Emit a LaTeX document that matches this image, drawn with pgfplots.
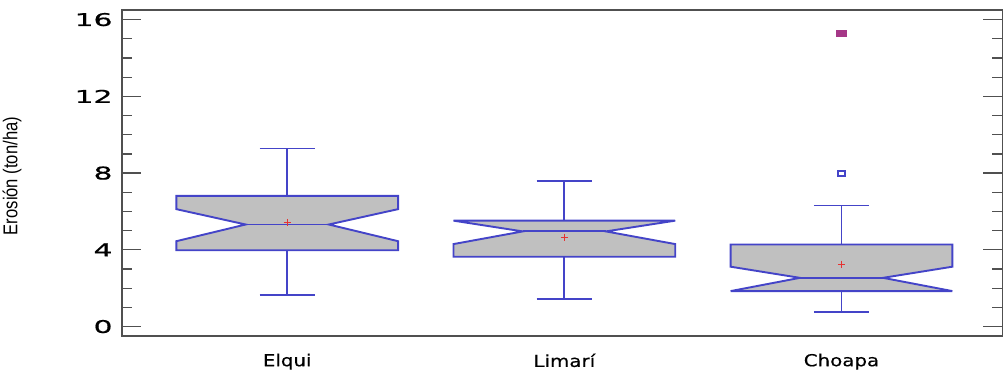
\documentclass[border=0pt]{standalone}
\usepackage{fontspec}
\setmainfont{DejaVu Sans}
\newfontfamily\tickfont{DejaVu Sans}[FakeStretch=1.7, FakeBold=0.8]
\newfontfamily\catfont{DejaVu Sans}[FakeStretch=1.2, FakeBold=0.4]
\newfontfamily\labfont{Liberation Sans}[FakeStretch=0.83]
\usepackage{pgfplots}
\pgfplotsset{compat=1.18}

\definecolor{boxblue}{RGB}{68,68,200}
\definecolor{boxgray}{RGB}{192,192,192}
\definecolor{framegray}{RGB}{80,80,80}
\definecolor{meanred}{RGB}{230,50,50}
\definecolor{outpurple}{RGB}{165,55,135}

\begin{document}
\begin{tikzpicture}
\begin{axis}[
  scale only axis,
  width=880pt, height=326pt,
  xmin=0.404, xmax=3.581,
  ymin=-0.5, ymax=16.5,
  xtick={1,2,3},
  xticklabels={Elqui,Limarí,Choapa},
  x tick style={draw=none},
  xticklabel style={font=\catfont\fontsize{16.5}{18}\selectfont, yshift=-14pt},
  ytick={0,4,8,12,16},
  minor y tick num=3,
  tick align=inside,
  ytick pos=both,
  xtick pos=bottom,
  major tick length=19pt,
  minor tick length=10pt,
  y tick style={framegray, line width=1.3pt},
  axis line style={framegray, line width=1.6pt},
  /pgf/number format/assume math mode=true,
  yticklabel style={font=\tickfont\fontsize{17.5}{19}\selectfont, xshift=-6pt},
  ylabel={Erosión (ton/ha)},
  ylabel style={font=\labfont\fontsize{20}{22}\selectfont, at={(axis description cs:-0.125,0.491)}, anchor=center},
  every axis plot/.append style={line width=1.9pt},
]
% Elqui
\addplot[fill=boxgray, draw=boxblue] coordinates {
  (0.60,3.98) (0.60,4.45) (0.85,5.32) (0.60,6.12) (0.60,6.81)
  (1.40,6.81) (1.40,6.12) (1.15,5.32) (1.40,4.45) (1.40,3.98)} -- cycle;
\addplot[boxblue] coordinates {(0.85,5.32) (1.15,5.32)};
\addplot[boxblue] coordinates {(1,6.81) (1,9.28)};
\addplot[boxblue] coordinates {(0.9,9.28) (1.1,9.28)};
\addplot[boxblue] coordinates {(1,3.98) (1,1.64)};
\addplot[boxblue] coordinates {(0.9,1.64) (1.1,1.64)};
\addplot[only marks, mark=+, mark size=3.5pt, meanred, line width=1pt] coordinates {(1,5.43)};
% Limari
\addplot[fill=boxgray, draw=boxblue] coordinates {
  (1.60,3.64) (1.60,4.30) (1.85,4.96) (1.60,5.52)
  (2.40,5.52) (2.15,4.96) (2.40,4.30) (2.40,3.64)} -- cycle;
\addplot[boxblue] coordinates {(1.85,4.96) (2.15,4.96)};
\addplot[boxblue] coordinates {(2,5.52) (2,7.59)};
\addplot[boxblue] coordinates {(1.9,7.59) (2.1,7.59)};
\addplot[boxblue] coordinates {(2,3.64) (2,1.42)};
\addplot[boxblue] coordinates {(1.9,1.42) (2.1,1.42)};
\addplot[only marks, mark=+, mark size=3.5pt, meanred, line width=1pt] coordinates {(2,4.66)};
% Choapa
\addplot[fill=boxgray, draw=boxblue] coordinates {
  (2.60,1.85) (2.85,2.54) (2.60,3.12) (2.60,4.28)
  (3.40,4.28) (3.40,3.12) (3.15,2.54) (3.40,1.85)} -- cycle;
\addplot[boxblue] coordinates {(2.85,2.54) (3.15,2.54)};
\addplot[boxblue] coordinates {(3,4.28) (3,6.31)};
\addplot[boxblue] coordinates {(2.9,6.31) (3.1,6.31)};
\addplot[boxblue] coordinates {(3,1.85) (3,0.77)};
\addplot[boxblue] coordinates {(2.9,0.77) (3.1,0.77)};
\addplot[only marks, mark=+, mark size=3.5pt, meanred, line width=1pt] coordinates {(3,3.26)};
\addplot[only marks, mark=square, mark size=2.6pt, boxblue, line width=1.6pt,
  mark options={xscale=1.3}] coordinates {(3,7.98)};
\addplot[only marks, mark=square*, mark size=2.8pt, outpurple,
  mark options={xscale=1.5}] coordinates {(3,15.27)};
\end{axis}
\pgfresetboundingbox
\path ([xshift=-122pt,yshift=-46pt]current axis.south west) rectangle ([xshift=0.5pt,yshift=10pt]current axis.north east);
\end{tikzpicture}
\end{document}
